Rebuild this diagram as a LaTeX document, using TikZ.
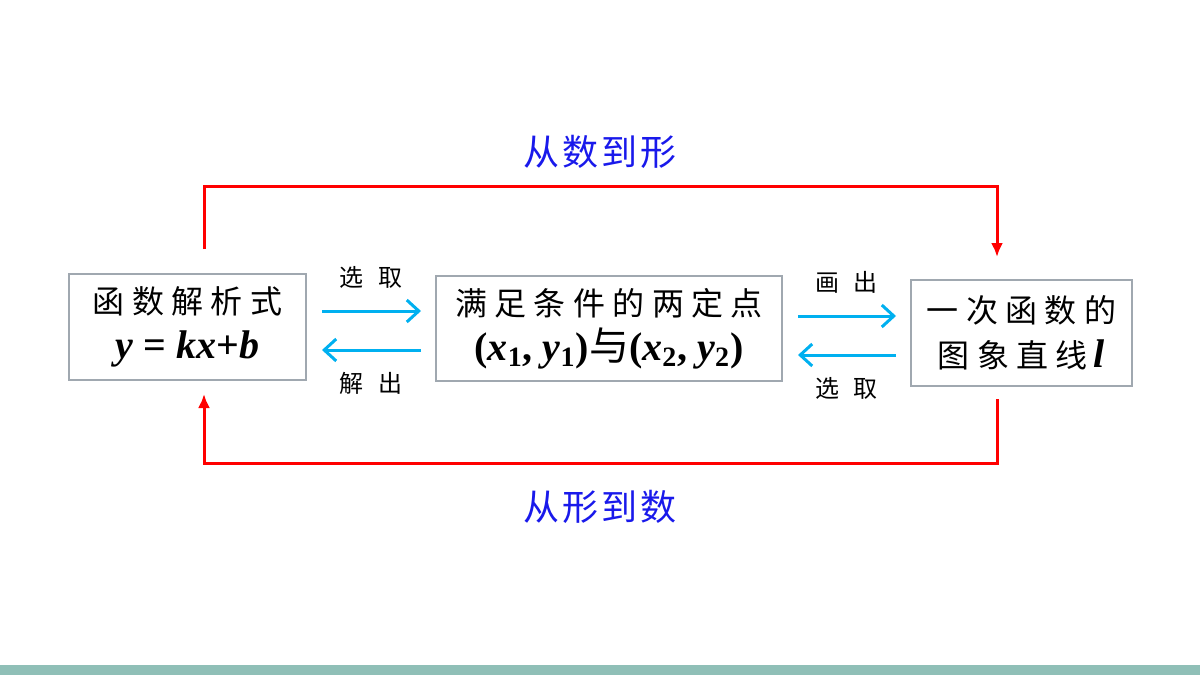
\documentclass[tikz,border=0pt]{standalone}
\usepackage{fontspec}
\setmainfont{Liberation Serif}
\newfontfamily\cjk[LetterSpace=23]{Noto Sans CJK SC}
\newfontfamily\cjksmall[LetterSpace=60]{Noto Sans CJK SC}
\newfontfamily\cjktitle[LetterSpace=8]{Noto Sans CJK SC}
\usetikzlibrary{arrows.meta, positioning}
\definecolor{boxgray}{RGB}{160,168,176}
\definecolor{arrowblue}{RGB}{0,176,240}
\definecolor{titleblue}{RGB}{25,25,235}
\definecolor{barcolor}{RGB}{143,191,183}
\newcommand{\bigmath}{\fontsize{20}{20}\selectfont\bfseries}
\tikzset{
  box/.style={draw=boxgray, line width=1pt, inner sep=0pt, align=center,
    font=\fontsize{16}{22.5}\selectfont},
  redline/.style={draw=red, line width=1.5pt, -{Latex[length=7pt,width=6pt]}},
  blueline/.style={draw=arrowblue, line width=1.5pt, -{Straight Barb[length=6pt,width=11pt]}},
  lbl/.style={font=\cjksmall\fontsize{12}{14}\selectfont},
  title/.style={text=titleblue, font=\cjktitle\fontsize{18}{22}\selectfont}
}
\begin{document}
\begin{tikzpicture}[x=0.5pt, y=-0.5pt]
  \useasboundingbox (0,0) rectangle (1200,675);
  \fill[barcolor] (0,665) rectangle (1200,675);
  % boxes
  \node[box, minimum width=118.5pt, minimum height=53pt] (expr) at (187.5,327)
    {{\cjk 函数解析式}\\{\bigmath\textit{y} = \textit{kx}+\textit{b}}};
  \node[box, minimum width=173pt, minimum height=52.5pt] (pts) at (609,328.5)
    {{\cjk 满足条件的两定点}\\{\bigmath(\textit{x}\textsubscript{1}, \textit{y}\textsubscript{1}){\cjk\mdseries 与}(\textit{x}\textsubscript{2}, \textit{y}\textsubscript{2})}};
  \node[box, minimum width=110.5pt, minimum height=53pt] (line) at (1021.5,333)
    {{\cjk 一次函数的}\\{\cjk 图象直线}\hspace{3pt}{\bigmath\textit{l}}};
  % titles
  \node[title] (numshape) at (600,152) {从数到形};
  \node[title] (shapenum) at (600,507) {从形到数};
  \coordinate (top) at (600,186);
  \coordinate (bottom) at (600,463);
  % red loops
  \draw[redline, shorten <=12pt, shorten >=11pt] ([xshift=8.25pt]expr.north)
    |- ([xshift=-12.25pt]line.north |- top) -- ([xshift=-12.25pt]line.north);
  \draw[redline, shorten <=6pt, shorten >=6.5pt] ([xshift=-12.25pt]line.south)
    |- ([xshift=8.25pt]expr.south |- bottom) -- ([xshift=8.25pt]expr.south);
  % blue arrows
  \draw[blueline, shorten <=7.5pt, shorten >=7pt] ([yshift=8pt]expr.east)
    -- ([yshift=8pt]expr.east -| pts.west) node[lbl, midway, above=7pt] {选取};
  \draw[blueline, shorten <=7pt, shorten >=7.5pt] ([yshift=-11.5pt]expr.east -| pts.west)
    -- ([yshift=-11.5pt]expr.east) node[lbl, midway, below=7pt] {解出};
  \draw[blueline, shorten <=7.5pt, shorten >=7pt] ([yshift=6.25pt]pts.east)
    -- ([yshift=6.25pt]pts.east -| line.west) node[lbl, midway, above=7pt] {画出};
  \draw[blueline, shorten <=7pt, shorten >=7.5pt] ([yshift=-13.25pt]pts.east -| line.west)
    -- ([yshift=-13.25pt]pts.east) node[lbl, midway, below=7pt] {选取};
\end{tikzpicture}
\end{document}
